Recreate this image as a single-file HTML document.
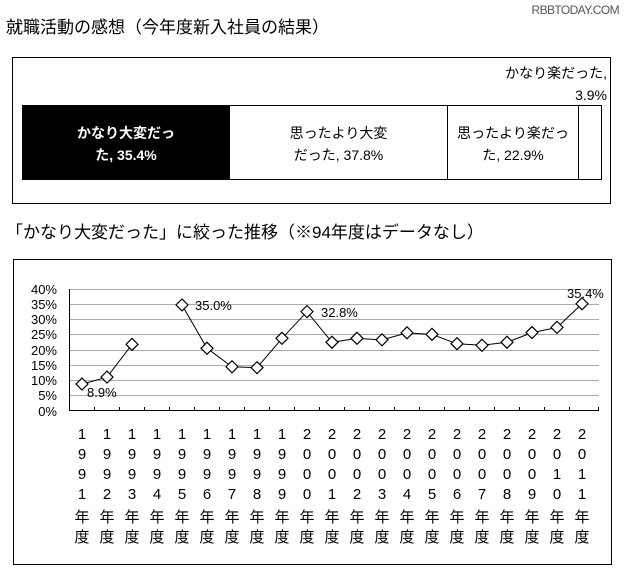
<!DOCTYPE html>
<html><head><meta charset="utf-8"><style>
body{margin:0;background:#fff;width:625px;height:584px;overflow:hidden;position:relative;font-family:"Liberation Sans","Noto Sans CJK JP",sans-serif;color:#000}
.a{position:absolute;white-space:nowrap}
</style></head><body>
<div class="a" style="right:6px;top:3px;font-size:12px;color:#555;letter-spacing:-0.6px">RBBTODAY.COM</div>
<div class="a" style="left:6px;top:13px;font-size:17px">就職活動の感想（今年度新入社員の結果）</div>
<div class="a" style="left:12px;top:57px;width:597px;height:145px;border:1px solid #000"></div>
<div class="a" style="left:22px;top:105px;width:208px;height:75px;background:#000"></div>
<div class="a" style="left:230px;top:105px;width:371px;height:73px;border:1px solid #000;border-left:none"></div>
<div class="a" style="left:447px;top:105px;width:1px;height:75px;background:#000"></div>
<div class="a" style="left:578px;top:105px;width:1px;height:75px;background:#000"></div>
<div class="a" style="left:22px;top:122px;width:208px;text-align:center;color:#fff;font-weight:bold;font-size:14px;line-height:22px">かなり大変だっ<br>た, 35.4%</div>
<div class="a" style="left:230px;top:122px;width:217px;text-align:center;font-size:14px;line-height:22px">思ったより大変<br>だった, 37.8%</div>
<div class="a" style="left:448px;top:122px;width:130px;text-align:center;font-size:14px;line-height:22px">思ったより楽だっ<br>た, 22.9%</div>
<div class="a" style="right:18px;top:62px;text-align:right;font-size:14px;line-height:22px">かなり楽だった,<br>3.9%</div>
<div class="a" style="left:6px;top:218px;font-size:17px">「かなり大変だった」に絞った推移（※94年度はデータなし）</div>
<div class="a" style="left:13px;top:259px;width:597px;height:304px;border:1px solid #000"></div>
<svg class="a" style="left:0;top:0" width="625" height="584">
<g stroke="#aaa" stroke-width="1">
<line x1="69" x2="599" y1="289.5" y2="289.5"/><line x1="69" x2="599" y1="304.5" y2="304.5"/><line x1="69" x2="599" y1="319.5" y2="319.5"/><line x1="69" x2="599" y1="334.5" y2="334.5"/><line x1="69" x2="599" y1="350.5" y2="350.5"/><line x1="69" x2="599" y1="365.5" y2="365.5"/><line x1="69" x2="599" y1="380.5" y2="380.5"/><line x1="69" x2="599" y1="395.5" y2="395.5"/>
</g>
<g stroke="#000"><line x1="69.5" x2="69.5" y1="289" y2="411"/><line x1="69" x2="599" y1="410.5" y2="410.5"/>
<path d="M94.5 411v-4M119.5 411v-4M144.5 411v-4M169.5 411v-4M194.5 411v-4M219.5 411v-4M244.5 411v-4M269.5 411v-4M294.5 411v-4M319.5 411v-4M344.5 411v-4M369.5 411v-4M394.5 411v-4M419.5 411v-4M444.5 411v-4M469.5 411v-4M494.5 411v-4M519.5 411v-4M544.5 411v-4M569.5 411v-4M598.5 411v-4"/>
<polyline fill="none" points="82,384.1 107,377.2 132,344.4"/>
<polyline fill="none" points="182,305 207,348.3 232,366.8 257,367.7 282,338.4 307,311.7 332,342.3 357,338.4 382,339.9 407,332.9 432,334.4 457,343.8 482,345.3 507,342.3 532,332.6 557,327.5 582,303.8"/>
</g>
<g id="m" fill="#fff" stroke="#000" stroke-width="1.2"></g>
<g font-size="13" fill="#000" text-anchor="end">
<text x="57" y="294">40%</text><text x="57" y="309">35%</text><text x="57" y="324">30%</text><text x="57" y="339">25%</text><text x="57" y="355">20%</text><text x="57" y="370">15%</text><text x="57" y="385">10%</text><text x="57" y="400">5%</text><text x="57" y="416">0%</text>
</g>
<g font-size="13" fill="#000">
<text x="87" y="397">8.9%</text><text x="195" y="310">35.0%</text><text x="321" y="317">32.8%</text><text x="567" y="298">35.4%</text>
</g>
</svg>
<div id="lab"></div>
<script>
var v=[8.9,11.2,22,null,35.0,20.7,14.6,14.3,24,32.8,22.7,24,23.5,25.8,25.3,22.2,21.7,22.7,25.9,27.6,35.4];
var m=document.getElementById('m'),s='';
v.forEach(function(d,i){if(d==null)return;var x=82+25*i,y=411-d*3.03;
s+='<path d="M'+x+' '+(y-6)+'L'+(x+6)+' '+y+'L'+x+' '+(y+6)+'L'+(x-6)+' '+y+'Z"/>';});
m.innerHTML=s;
var h='';
for(var i=0;i<21;i++){var yr=String(1991+i);var x=82+25*i;
var c=yr.split('').concat(['年','度']);
c.forEach(function(ch,j){h+='<div class="a" style="left:'+(x-10)+'px;top:'+(426+j*20)+'px;width:20px;text-align:center;font-size:15px">'+ch+'</div>';});}
document.getElementById('lab').innerHTML=h;
</script>
</body></html>
